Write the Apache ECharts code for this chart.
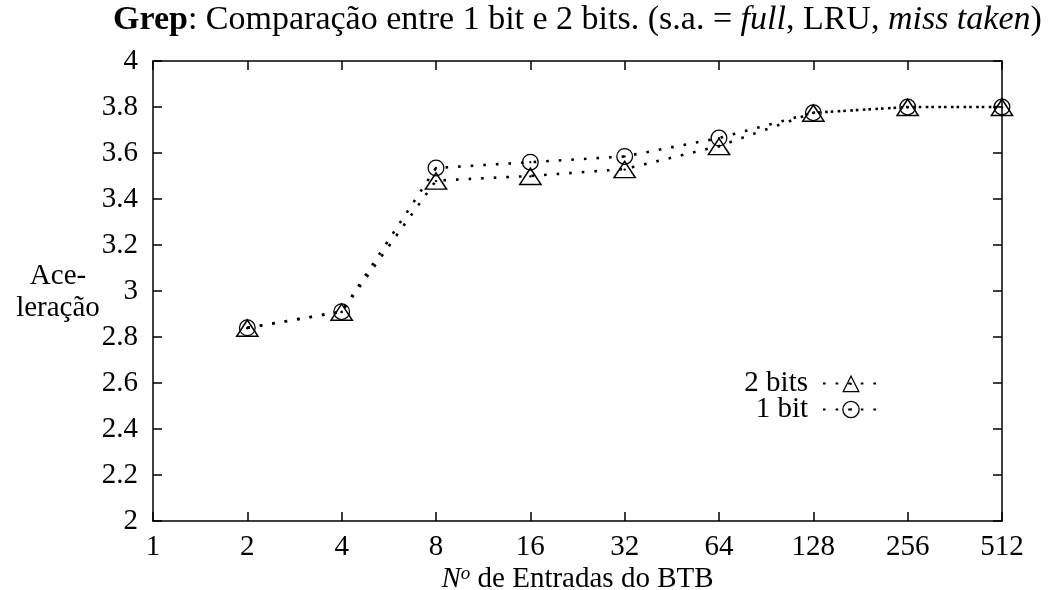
<!DOCTYPE html>
<html>
<head>
<meta charset="utf-8">
<script src="https://cdn.jsdelivr.net/npm/echarts@6/dist/echarts.min.js"></script>
<style>html,body{margin:0;padding:0;background:#fff;}#c{width:1063px;height:590px;}</style>
</head>
<body>
<div id="c"></div>
<script>
var entries = [2, 4, 8, 16, 32, 64, 128, 256, 512];
var bits2 = [2.84, 2.91, 3.48, 3.50, 3.53, 3.63, 3.775, 3.80, 3.80];
var bits1 = [2.84, 2.91, 3.535, 3.56, 3.585, 3.665, 3.775, 3.80, 3.80];
var seriesNames = ['2 bits', '1 bit'];
var yTicks = ['2', '2.2', '2.4', '2.6', '2.8', '3', '3.2', '3.4', '3.6', '3.8', '4'];

var FONT = 'Liberation Serif';
var FS = 29;
var TFS = 34;
var triPath = 'path://M0,0 L12,21 L-12,21 Z M0,3.23 L-9.24,19.4 L9.24,19.4 Z M0,9.7 A1.3,1.3 0 1,1 0,12.3 A1.3,1.3 0 1,1 0,9.7 Z';
var cirPath = 'path://M0,-10 A10,10 0 1,1 0,10 A10,10 0 1,1 0,-10 Z M0,-8.5 A8.5,8.5 0 1,0 0,8.5 A8.5,8.5 0 1,0 0,-8.5 Z M0,-1.3 A1.3,1.3 0 1,1 0,1.3 A1.3,1.3 0 1,1 0,-1.3 Z';

function pairs(vals) { return entries.map(function (x, i) { return [x, vals[i]]; }); }

var chart = echarts.init(document.getElementById('c'), null, {renderer: 'canvas'});
var axisCommon = {
  axisLine: {show: true, lineStyle: {color: '#000', width: 1.5}},
  axisTick: {show: true, inside: true, length: 9, lineStyle: {color: '#000', width: 1.5}},
  splitLine: {show: false}
};
chart.setOption({
  animation: false,
  backgroundColor: '#fff',
  title: {
    text: '{b|Grep}: Comparação entre 1 bit e 2 bits. (s.a. = {i|full}, LRU, {i|miss taken})',
    left: 108, top: -2,
    textStyle: {
      fontFamily: FONT, fontSize: TFS, fontWeight: 'normal', color: '#000',
      rich: {
        b: {fontFamily: FONT, fontSize: TFS, fontWeight: 'bold', color: '#000'},
        i: {fontFamily: FONT, fontSize: TFS, fontStyle: 'italic', color: '#000'}
      }
    }
  },
  grid: {left: 153, right: 61, top: 61, bottom: 69, containLabel: false, outerBoundsMode: 'none'},
  legend: {
    orient: 'vertical', right: 178, top: 364, align: 'right',
    itemWidth: 56, itemHeight: 22, itemGap: -3,
    data: seriesNames,
    textStyle: {fontFamily: FONT, fontSize: FS, color: '#000', lineHeight: 24, padding: [0, 10, 0, 0]}
  },
  xAxis: [
    Object.assign({
      type: 'log', logBase: 2, min: 1, max: 512, interval: 1, splitNumber: 9,
      position: 'bottom',
      name: '{i|N}{s|o} de Entradas do BTB', nameLocation: 'middle', nameGap: 43,
      nameMoveOverlap: false,
      nameTextStyle: {
        fontFamily: FONT, fontSize: FS, color: '#000',
        rich: {
          i: {fontFamily: FONT, fontSize: FS, fontStyle: 'italic', color: '#000'},
          s: {fontFamily: FONT, fontSize: 19, fontStyle: 'italic', color: '#000', padding: [0, 0, 12, 0]}
        }
      },
      axisLabel: {fontFamily: FONT, fontSize: FS, color: '#000', margin: 12}
    }, axisCommon),
    Object.assign({
      type: 'log', logBase: 2, min: 1, max: 512, interval: 1, splitNumber: 9,
      position: 'top', axisLabel: {show: false}
    }, axisCommon)
  ],
  yAxis: [
    Object.assign({
      type: 'value', min: 2, max: 4, interval: 0.2, position: 'left',
      axisLabel: {fontFamily: FONT, fontSize: FS, color: '#000', margin: 15,
        formatter: function (v) { return yTicks[Math.round((v - 2) / 0.2)]; }}
    }, axisCommon),
    Object.assign({
      type: 'value', min: 2, max: 4, interval: 0.2, position: 'right',
      axisLabel: {show: false}
    }, axisCommon)
  ],
  graphic: [{
    type: 'text', x: 58, y: 260,
    style: {text: 'Ace-\nleração', font: FS + 'px "' + FONT + '"', fill: '#000', align: 'center', verticalAlign: 'top', lineHeight: 32}
  }],
  series: [
    {
      name: seriesNames[0], type: 'line', data: pairs(bits2),
      symbol: triPath, symbolSize: [24, 21], symbolKeepAspect: true,
      itemStyle: {color: '#000', borderWidth: 0},
      lineStyle: {color: '#000', width: 2.6, type: [2.6, 10], cap: 'butt'},
      z: 3
    },
    {
      name: seriesNames[1], type: 'line', data: pairs(bits1),
      symbol: cirPath, symbolSize: 17, symbolKeepAspect: true,
      itemStyle: {color: '#000', borderWidth: 0},
      lineStyle: {color: '#000', width: 2.6, type: [2.6, 10], cap: 'butt'},
      z: 3
    }
  ]
});
</script>
</body>
</html>
